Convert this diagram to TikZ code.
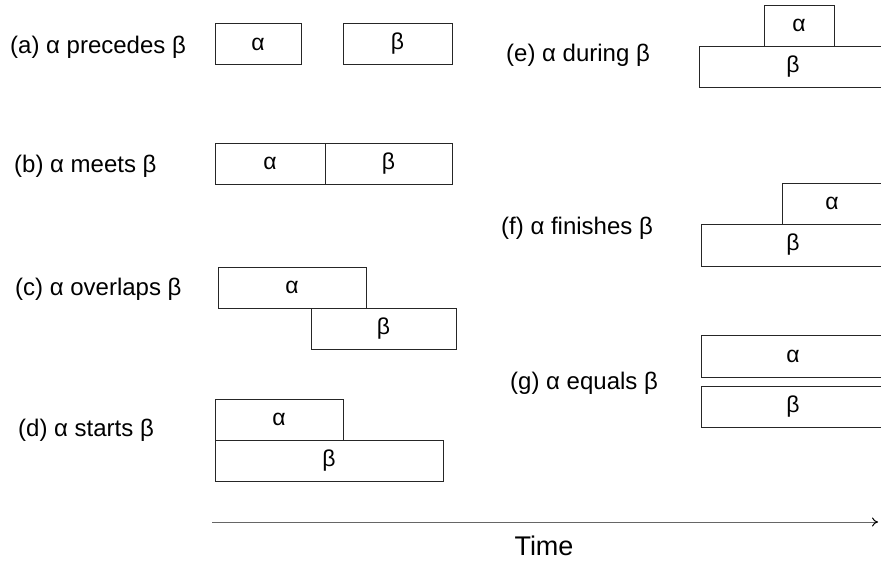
\documentclass[tikz,border=0pt]{standalone}
\usepackage{fontspec}
\setmainfont{Liberation Sans}
\usetikzlibrary{arrows.meta}
\begin{document}
\begin{tikzpicture}[x=1pt,y=-1pt,
  ivl/.style={draw=black!85,line width=0.9pt,inner sep=0pt,minimum height=41pt,font=\fontsize{23}{26}\selectfont},
  lbl/.style={anchor=west,inner sep=0pt,font=\fontsize{24}{27}\selectfont},
  timeax/.style={draw=black!60,line width=1pt,-{To[length=6pt,width=9pt,color=black]}}]
\useasboundingbox (0,0) rectangle (881,560);
\clip (0,0) rectangle (881,560);
% labels
\node[lbl] (la) at (10,47) {(a) α precedes β};
\node[lbl] (lb) at (14,166) {(b) α meets β};
\node[lbl] (lc) at (15,289) {(c) α overlaps β};
\node[lbl] (ld) at (18,430) {(d) α starts β};
\node[lbl] (le) at (506,55) {(e) α during β};
\node[lbl] (lf) at (501,228) {(f) α finishes β};
\node[lbl] (lg) at (510,383) {(g) α equals β};
% (a)
\node[ivl,minimum width=86pt] (aa) at (258,44) {α};
\node[ivl,minimum width=109pt] (ab) at (397.5,44) {β};
% (b)
\node[ivl,minimum width=110pt] (ba) at (270,163.5) {α};
\node[ivl,minimum width=127pt] (bb) at (388.5,163.5) {β};
% (c)
\node[ivl,minimum width=148pt] (ca) at (292,287.5) {α};
\node[ivl,minimum width=145pt] (cb) at (383.5,328.5) {β};
% (d)
\node[ivl,minimum width=128pt] (da) at (279,419.5) {α};
\node[ivl,minimum width=228pt] (db) at (329,460.5) {β};
% (e)
\node[ivl,minimum width=70pt] (ea) at (799,25.5) {α};
\node[ivl,minimum width=188pt] (eb) at (793,66.5) {β};
% (f)
\node[ivl,minimum width=100pt] (fa) at (832,203.5) {α};
\node[ivl,minimum width=184pt,minimum height=42pt] (fb) at (793,245) {β};
% (g)
\node[ivl,minimum width=184pt,minimum height=42pt] (ga) at (793,356) {α};
\node[ivl,minimum width=184pt] (gb) at (793,406.5) {β};
% time axis
\coordinate (t0) at (212,522);
\coordinate (t1) at (878,522);
\draw[timeax] (t0) -- (t1);
\node[inner sep=0pt,font=\fontsize{27}{30}\selectfont] (time) at (544,546) {Time};
\end{tikzpicture}
\end{document}
